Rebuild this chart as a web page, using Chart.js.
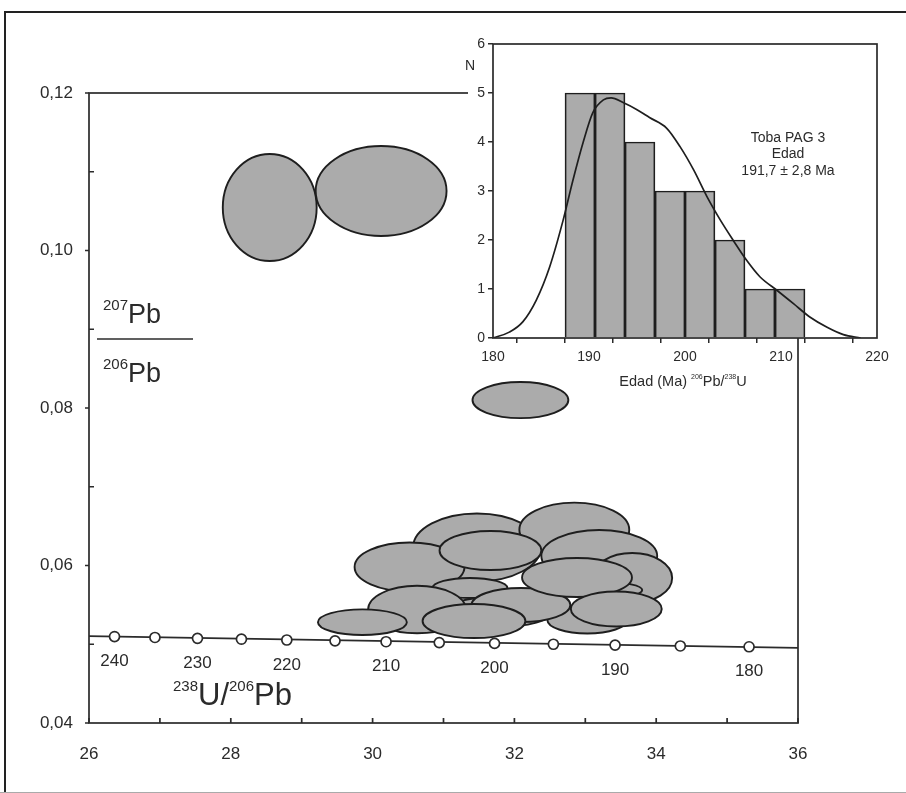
<!DOCTYPE html>
<html>
<head>
<meta charset="utf-8">
<script src="https://cdn.jsdelivr.net/npm/chart.js@4.4.1/dist/chart.umd.min.js"></script>
<style>
  html, body { margin: 0; padding: 0; background: #fff; }
  #wrap { position: relative; width: 906px; height: 793px; overflow: hidden; }
  #main { position: absolute; left: 0; top: 0; }
  #inset { position: absolute; left: 440px; top: 20px; }
</style>
</head>
<body>
<div id="wrap">
  <canvas id="main" width="906" height="793"></canvas>
  <canvas id="inset" width="466" height="390"></canvas>
</div>
<script>
var FONT = '"Liberation Sans", Arial, sans-serif';
var INK = '#2b2b2b';

// concordia age marks (Ma) and where they sit on the diagram
var concAges = [240, 235, 230, 225, 220, 215, 210, 205, 200, 195, 190, 185, 180];
var concX = [26.36, 26.93, 27.53, 28.15, 28.79, 29.47, 30.19, 30.94, 31.72, 32.55, 33.42, 34.34, 35.31];
var concY = [0.05098, 0.05086, 0.05075, 0.05064, 0.05054, 0.05043, 0.05032, 0.05021, 0.05011, 0.05000, 0.04989, 0.04978, 0.04968];
var concLineX = [26, 36];
var concLineY = [0.05103, 0.04955];

// error ellipses: centre (238U/206Pb, 207Pb/206Pb) and half axes, back to front
var ellX  = [28.549, 30.120, 32.085, 31.472, 32.845, 30.521, 33.197, 33.662, 31.373, 33.268, 31.761, 33.028, 30.627, 32.092, 31.662, 32.883, 33.437, 29.856, 31.430];
var ellY  = [0.10546, 0.10756, 0.08101, 0.06229, 0.06455, 0.05981, 0.06121, 0.05841, 0.05714, 0.05689, 0.05410, 0.05308, 0.05441, 0.05498, 0.06190, 0.05848, 0.05448, 0.05280, 0.05295];
var ellDX = [0.662, 0.923, 0.676, 0.901, 0.775, 0.775, 0.817, 0.563, 0.528, 0.535, 0.775, 0.563, 0.690, 0.697, 0.718, 0.775, 0.641, 0.627, 0.725];
var ellDY = [0.00679, 0.00571, 0.00229, 0.00432, 0.00343, 0.00311, 0.00330, 0.00317, 0.00127, 0.00102, 0.00190, 0.00171, 0.00301, 0.00216, 0.00248, 0.00248, 0.00222, 0.00163, 0.00216];

// inset histogram of 206Pb/238U ages
var binCenters = [189.06, 192.19, 195.31, 198.44, 201.56, 204.69, 207.81, 210.94];
var binCounts = [5, 5, 4, 3, 3, 2, 1, 1];
var kdeX = [180, 181.7, 183.1, 184.5, 185.9, 187.3, 188.3, 189.4, 190.4, 191.5, 192.3, 193.6, 195.0, 196.3, 198.1, 199.5, 200.9, 202.3, 203.7, 205.0, 206.4, 207.8, 209.6, 211.3, 213.0, 214.8, 216.5, 218.3];
var kdeY = [0, 0.12, 0.33, 0.77, 1.45, 2.4, 3.2, 4.0, 4.6, 4.86, 4.9, 4.8, 4.66, 4.5, 4.28, 3.9, 3.43, 2.88, 2.4, 2.0, 1.59, 1.25, 0.97, 0.70, 0.43, 0.22, 0.07, 0];

function pts(xs, ys) {
  return xs.map(function (x, i) { return { x: x, y: ys[i] }; });
}

// draws runs of text like [['238', 14, -12], ['U/', 31, 0]] from a start point
function richText(ctx, parts, x, y, align) {
  var total = 0;
  parts.forEach(function (p) {
    ctx.font = p[1] + 'px ' + FONT;
    total += ctx.measureText(p[0]).width;
  });
  if (align === 'center') x -= total / 2;
  ctx.textAlign = 'left';
  ctx.textBaseline = 'alphabetic';
  parts.forEach(function (p) {
    ctx.font = p[1] + 'px ' + FONT;
    ctx.fillText(p[0], x, y + p[2]);
    x += ctx.measureText(p[0]).width;
  });
}

var mainDecor = {
  id: 'mainDecor',
  beforeDraw: function (chart) {
    var ctx = chart.ctx;
    ctx.save();
    ctx.fillStyle = '#fff';
    ctx.fillRect(0, 0, chart.width, chart.height);
    // outer frame of the figure
    ctx.strokeStyle = '#222';
    ctx.lineWidth = 2;
    ctx.beginPath();
    ctx.moveTo(5, 793);
    ctx.lineTo(5, 12);
    ctx.lineTo(906, 12);
    ctx.stroke();
    ctx.strokeStyle = '#aaa';
    ctx.lineWidth = 1;
    ctx.beginPath();
    ctx.moveTo(0, 792.5);
    ctx.lineTo(906, 792.5);
    ctx.stroke();
    ctx.restore();
  },
  beforeDatasetsDraw: function (chart) {
    var ctx = chart.ctx, xs = chart.scales.x, ys = chart.scales.y, a = chart.chartArea;
    ctx.save();
    ctx.beginPath();
    ctx.rect(a.left, a.top, a.right - a.left, a.bottom - a.top);
    ctx.clip();
    ctx.fillStyle = '#ababab';
    ctx.strokeStyle = '#1e1e1e';
    ctx.lineWidth = 1.9;
    for (var i = 0; i < ellX.length; i++) {
      var cx = xs.getPixelForValue(ellX[i]);
      var cy = ys.getPixelForValue(ellY[i]);
      var rx = Math.abs(xs.getPixelForValue(ellX[i] + ellDX[i]) - cx);
      var ry = Math.abs(ys.getPixelForValue(ellY[i] + ellDY[i]) - cy);
      ctx.beginPath();
      ctx.ellipse(cx, cy, rx, ry, 0, 0, Math.PI * 2);
      ctx.fill();
      ctx.stroke();
    }
    ctx.restore();
  },
  afterDraw: function (chart) {
    var ctx = chart.ctx, xs = chart.scales.x, ys = chart.scales.y, a = chart.chartArea;
    ctx.save();
    // plot frame
    ctx.strokeStyle = INK;
    ctx.lineWidth = 1.7;
    ctx.strokeRect(a.left, a.top, a.right - a.left, a.bottom - a.top);
    // inward tick marks
    ctx.beginPath();
    xs.ticks.forEach(function (t) {
      var px = xs.getPixelForValue(t.value);
      ctx.moveTo(px, a.bottom);
      ctx.lineTo(px, a.bottom - 5);
    });
    ys.ticks.forEach(function (t) {
      var py = ys.getPixelForValue(t.value);
      var major = Math.round(t.value * 100) % 2 === 0;
      ctx.moveTo(a.left - (major ? 4 : 0), py);
      ctx.lineTo(a.left + (major ? 0 : 5), py);
    });
    ctx.stroke();
    // age labels on the concordia
    ctx.fillStyle = INK;
    ctx.font = '17px ' + FONT;
    ctx.textAlign = 'center';
    ctx.textBaseline = 'middle';
    concAges.forEach(function (age, i) {
      if (age % 10 !== 0) return;
      ctx.fillText(String(age), xs.getPixelForValue(concX[i]), ys.getPixelForValue(concY[i]) + 25);
    });
    // axis titles
    richText(ctx, [['207', 15, -13], ['Pb', 27, 0]], 103, 323);
    ctx.beginPath();
    ctx.lineWidth = 1.7;
    ctx.moveTo(97, 339);
    ctx.lineTo(193, 339);
    ctx.stroke();
    richText(ctx, [['206', 15, -13], ['Pb', 27, 0]], 103, 382);
    richText(ctx, [['238', 15, -14], ['U/', 31, 0], ['206', 15, -14], ['Pb', 31, 0]], 173, 705);
    ctx.restore();
  }
};

new Chart(document.getElementById('main'), {
  type: 'scatter',
  data: {
    datasets: [
      {
        label: 'concordia',
        data: pts(concLineX, concLineY),
        showLine: true,
        borderColor: INK,
        borderWidth: 1.7,
        pointRadius: 0,
        order: 1
      },
      {
        label: 'ages',
        data: pts(concX, concY),
        showLine: false,
        pointRadius: 5,
        pointBackgroundColor: '#fff',
        pointBorderColor: INK,
        pointBorderWidth: 1.7,
        order: 0
      }
    ]
  },
  options: {
    responsive: false,
    animation: false,
    layout: { padding: { left: 29, right: 108, top: 93, bottom: 25 } },
    plugins: { legend: { display: false }, tooltip: { enabled: false } },
    scales: {
      x: {
        type: 'linear', min: 26, max: 36,
        grid: { display: false, drawTicks: false },
        border: { display: false },
        afterFit: function (s) { s.height = 45; },
        ticks: {
          stepSize: 1, padding: 21, color: INK, font: { family: FONT, size: 17 },
          maxRotation: 0, autoSkip: false,
          callback: function (v) { return Math.round(v) % 2 === 0 ? String(Math.round(v)) : ''; }
        }
      },
      y: {
        type: 'linear', min: 0.04, max: 0.12,
        grid: { display: false, drawTicks: false },
        border: { display: false },
        afterFit: function (s) { s.width = 60; },
        ticks: {
          stepSize: 0.01, padding: 16, color: INK, font: { family: FONT, size: 17 },
          autoSkip: false,
          callback: function (v) {
            var h = Math.round(v * 100);
            return h % 2 === 0 ? (h / 100).toFixed(2).replace('.', ',') : '';
          }
        }
      }
    }
  },
  plugins: [mainDecor]
});

var insetDecor = {
  id: 'insetDecor',
  beforeDraw: function (chart) {
    var ctx = chart.ctx;
    ctx.save();
    ctx.fillStyle = '#fff';
    ctx.fillRect(28, 0, chart.width - 28, chart.chartArea.bottom);
    ctx.restore();
  },
  afterDraw: function (chart) {
    var ctx = chart.ctx, a = chart.chartArea;
    ctx.save();
    ctx.strokeStyle = INK;
    ctx.lineWidth = 1.7;
    ctx.strokeRect(a.left, a.top, a.right - a.left, a.bottom - a.top);
    ctx.fillStyle = INK;
    ctx.font = '14px ' + FONT;
    ctx.textAlign = 'center';
    ctx.textBaseline = 'alphabetic';
    ctx.fillText('N', 30, 50);
    ctx.fillText('Toba PAG 3', 348, 122);
    ctx.fillText('Edad', 348, 138);
    ctx.fillText('191,7 \u00b1 2,8 Ma', 348, 155);
    richText(ctx, [['Edad (Ma) ', 14.5, 0], ['206', 7, -7], ['Pb/', 14.5, 0], ['238', 7, -7], ['U', 14.5, 0]], 243, 366, 'center');
    ctx.restore();
  }
};

new Chart(document.getElementById('inset'), {
  type: 'bar',
  data: {
    datasets: [
      {
        type: 'line',
        label: 'density',
        data: pts(kdeX, kdeY),
        borderColor: '#1e1e1e',
        borderWidth: 1.7,
        pointRadius: 0,
        cubicInterpolationMode: 'monotone',
        order: 0
      },
      {
        type: 'bar',
        label: 'N',
        data: pts(binCenters, binCounts),
        backgroundColor: '#ababab',
        borderColor: '#1e1e1e',
        borderWidth: 1.7,
        barPercentage: 1,
        categoryPercentage: 1,
        grouped: false,
        order: 1
      }
    ]
  },
  options: {
    responsive: false,
    animation: false,
    layout: { padding: { left: 23, right: 29, top: 24, bottom: 22 } },
    plugins: { legend: { display: false }, tooltip: { enabled: false } },
    scales: {
      x: {
        type: 'linear', min: 180, max: 220, offset: false,
        grid: { display: true, drawOnChartArea: false, drawTicks: true, tickLength: 5, color: INK, lineWidth: 1.5 },
        border: { display: false },
        afterFit: function (s) { s.height = 50; },
        ticks: {
          stepSize: 5, padding: 6, color: INK, font: { family: FONT, size: 14 },
          maxRotation: 0, autoSkip: false,
          callback: function (v) { return v % 10 === 0 ? String(v) : ''; }
        }
      },
      y: {
        type: 'linear', min: 0, max: 6,
        grid: { display: true, drawOnChartArea: false, drawTicks: true, tickLength: 5, color: INK, lineWidth: 1.5 },
        border: { display: false },
        afterFit: function (s) { s.width = 30; },
        ticks: { stepSize: 1, padding: 3, color: INK, font: { family: FONT, size: 14 } }
      }
    }
  },
  plugins: [insetDecor]
});
</script>
</body>
</html>
